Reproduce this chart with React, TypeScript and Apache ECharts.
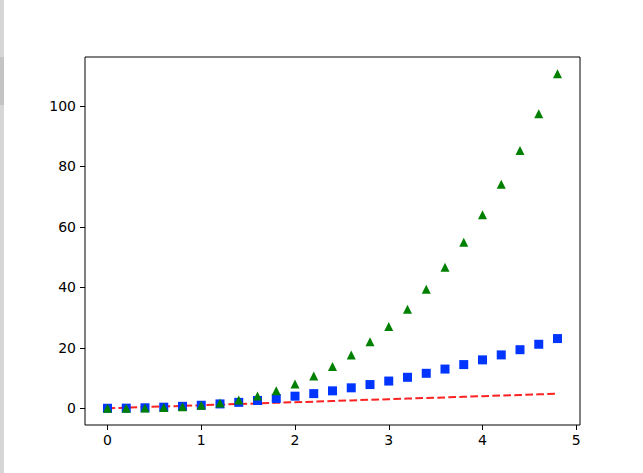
import React, { useEffect, useRef } from "react";
import * as echarts from "echarts";

const tValues = [0, 0.2, 0.4, 0.6, 0.8, 1, 1.2, 1.4, 1.6, 1.8, 2, 2.2, 2.4, 2.6, 2.8, 3, 3.2, 3.4, 3.6, 3.8, 4, 4.2, 4.4, 4.6, 4.8];
const linearValues = [0, 0.2, 0.4, 0.6, 0.8, 1, 1.2, 1.4, 1.6, 1.8, 2, 2.2, 2.4, 2.6, 2.8, 3, 3.2, 3.4, 3.6, 3.8, 4, 4.2, 4.4, 4.6, 4.8];
const squareValues = [0, 0.04, 0.16, 0.36, 0.64, 1, 1.44, 1.96, 2.56, 3.24, 4, 4.84, 5.76, 6.76, 7.84, 9, 10.24, 11.56, 12.96, 14.44, 16, 17.64, 19.36, 21.16, 23.04];
const cubeValues = [0, 0.008, 0.064, 0.216, 0.512, 1, 1.728, 2.744, 4.096, 5.832, 8, 10.648, 13.824, 17.576, 21.952, 27, 32.768, 39.304, 46.656, 54.872, 64, 74.088, 85.184, 97.336, 110.592];
const xTicks = [0, 1, 2, 3, 4, 5];
const yTicks = [0, 20, 40, 60, 80, 100];

export default function App() {
  const ref = useRef<HTMLDivElement>(null);
  useEffect(() => {
    if (!ref.current) return;
    const chart = echarts.init(ref.current, null, { renderer: "svg" });
    const pair = (ys: number[]) => tValues.map((t, i) => [t, ys[i]]);
    const font = "DejaVu Sans";
    chart.setOption({
      animation: false,
      backgroundColor: "#ffffff",
      grid: {
        left: 85,
        right: 63,
        top: 57,
        bottom: 48,
        show: true,
        borderColor: "#000000",
        borderWidth: 1,
        backgroundColor: "transparent",
      },
      xAxis: {
        type: "value",
        min: -0.24,
        max: 5.04,
        axisLine: { show: false, onZero: false },
        splitLine: { show: false },
        axisTick: {
          show: true,
          customValues: xTicks,
          length: 5,
          lineStyle: { color: "#000000", width: 1 },
        },
        axisLabel: {
          customValues: xTicks,
          margin: 8,
          color: "#000000",
          fontFamily: font,
          fontSize: 14,
          formatter: (v: number) => String(v),
        },
      },
      yAxis: {
        type: "value",
        min: -5.53,
        max: 116.12,
        axisLine: { show: false, onZero: false },
        splitLine: { show: false },
        axisTick: {
          show: true,
          customValues: yTicks,
          length: 5,
          lineStyle: { color: "#000000", width: 1 },
        },
        axisLabel: {
          customValues: yTicks,
          margin: 9,
          color: "#000000",
          fontFamily: font,
          fontSize: 14,
          formatter: (v: number) => String(v),
        },
      },
      graphic: [
        { type: "rect", shape: { x: 0, y: 0, width: 4, height: 473 }, style: { fill: "#d6d6d6" } },
        { type: "rect", shape: { x: 0, y: 57, width: 4, height: 48 }, style: { fill: "#c4c4c4" } },
      ],
      series: [
        {
          type: "line",
          data: pair(linearValues),
          showSymbol: false,
          symbol: "none",
          lineStyle: { color: "#ff2222", width: 2, type: [7.7, 3.3] },
          z: 1,
        },
        {
          type: "scatter",
          data: pair(squareValues),
          symbol: "rect",
          symbolSize: 9,
          itemStyle: { color: "#0035ff", opacity: 1 },
          z: 2,
        },
        {
          type: "scatter",
          data: pair(cubeValues),
          symbol: "triangle",
          symbolSize: 9,
          itemStyle: { color: "#008000", opacity: 1 },
          z: 3,
        },
      ],
    });
    return () => chart.dispose();
  }, []);
  return (
    <div
      ref={ref}
      style={{ position: "fixed", left: 0, top: 0, width: 643, height: 473 }}
    />
  );
}
